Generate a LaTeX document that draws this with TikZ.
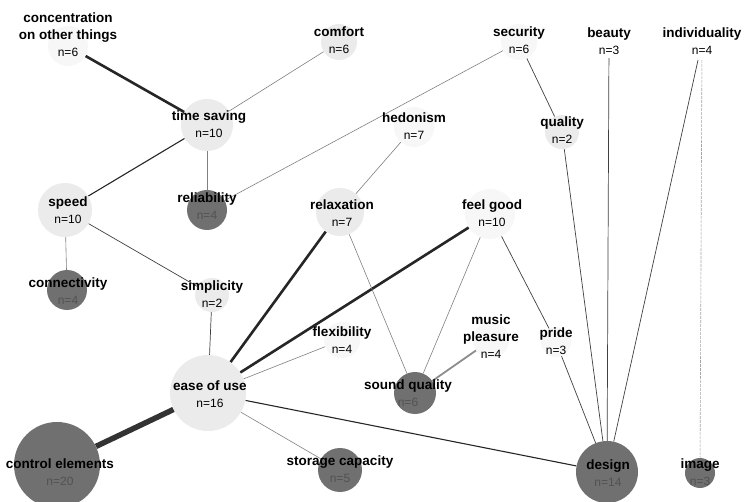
\documentclass[tikz,border=0pt]{standalone}
\usepackage{fontspec}
\setmainfont{Liberation Sans}
\pgfdeclarelayer{bg}
\pgfdeclarelayer{paper}
\pgfsetlayers{paper,bg,main}
\begin{document}
\begin{tikzpicture}[x=1pt,y=-1pt,
  bubble/.style={circle, draw=none, inner sep=0pt, minimum size=#1},
  wb/.style={bubble=#1, fill=white},
  vl/.style={bubble=#1, fill=gray!6},
  lt/.style={bubble=#1, fill=gray!16},
  dk/.style={bubble=#1, fill=black!56},
  lab/.style={align=center, inner sep=0pt, font=\fontsize{13.5}{17}\selectfont\bfseries},
  thinedge/.style={draw=black!50, line width=0.6pt},
  darkedge/.style={draw=black!75, line width=0.7pt},
  midedge/.style={draw=black!85, line width=1.1pt},
  greyedge/.style={draw=black!45, line width=1.8pt},
  thickedge/.style={draw=black!85, line width=2.6pt},
  hugeedge/.style={draw=black!80, line width=5.5pt},
  dotedge/.style={draw=black!35, line width=0.6pt, dash pattern=on 3pt off 1pt}
]
\newcommand{\nn}[1]{{\mdseries\fontsize{12}{17}\selectfont #1}}
\newcommand{\nd}[1]{{\mdseries\fontsize{12}{17}\selectfont\color{black!68}#1}}
\useasboundingbox (0,0) rectangle (744,502);
\begin{pgfonlayer}{paper}
\fill[white] (0,0) rectangle (744,502);
\end{pgfonlayer}

% bubbles
\node[vl=40] (conc) at (68,46) {};
\node[lt=36] (comf) at (339,42) {};
\node[vl=36] (secu) at (519,42) {};
\node[wb=32] (beau) at (609,42) {};
\node[wb=36] (indi) at (702,42) {};
\node[lt=52] (time) at (207,125) {};
\node[vl=40] (hedo) at (414,127) {};
\node[lt=34] (qual) at (562,132) {};
\node[lt=54] (spee) at (65,210) {};
\node[dk=40] (reli) at (207,210) {};
\node[lt=48] (rela) at (340,212) {};
\node[vl=50] (feel) at (490,214) {};
\node[dk=40] (conn) at (67,290) {};
\node[lt=34] (simp) at (212,295) {};
\node[vl=36] (flex) at (342,340) {};
\node[vl=36] (musi) at (491,340) {};
\node[vl=30] (prid) at (556,342) {};
\node[lt=76] (ease) at (208,393) {};
\node[dk=42] (soun) at (415,393) {};
\node[dk=86] (cont) at (57,465) {};
\node[dk=44] (stor) at (340,470) {};
\node[dk=62] (desi) at (607,472) {};
\node[dk=30] (imag) at (700,473) {};

% connectors
\begin{pgfonlayer}{bg}
\draw[thickedge] (conc) -- (time);
\draw[thinedge] (comf) -- (time);
\draw[midedge] (time) -- (spee);
\draw[thinedge] (time) -- (reli);
\draw[thinedge] (secu) -- (reli);
\draw[darkedge] (secu) -- (qual);
\draw[thinedge] (hedo) -- (rela);
\draw[thinedge] (spee) -- (conn);
\draw[darkedge] (spee) -- (simp);
\draw[darkedge] (simp) -- (ease);
\draw[thickedge] (rela) -- (ease);
\draw[thickedge] (feel) -- (ease);
\draw[thinedge] (flex) -- (ease);
\draw[thinedge] (rela) -- (soun);
\draw[thinedge] (feel) -- (soun);
\draw[greyedge] (musi) -- (soun);
\draw[darkedge] (feel) -- (prid);
\draw[darkedge] (prid) -- (desi);
\draw[darkedge] (qual) -- (desi);
\draw[darkedge] (beau) -- (desi);
\draw[darkedge] (indi) -- (desi);
\draw[dotedge] (indi) -- (imag);
\draw[hugeedge] (ease) -- (cont);
\draw[thinedge] (ease) -- (stor);
\draw[midedge] (ease) -- (desi);
\end{pgfonlayer}

% texts
\node[lab] (tconc) at (68,35) {concentration\\on other things\\\nn{n=6}};
\node[lab] (tcomf) at (339,40.5) {comfort\\\nn{n=6}};
\node[lab] (tsecu) at (519,40.5) {security\\\nn{n=6}};
\node[lab] (tbeau) at (609,41.5) {beauty\\\nn{n=3}};
\node[lab] (tindi) at (702,41.5) {individuality\\\nn{n=4}};
\node[lab] (ttime) at (209,124.5) {time saving\\\nn{n=10}};
\node[lab] (thedo) at (414,126.5) {hedonism\\\nn{n=7}};
\node[lab] (tqual) at (562,130.5) {quality\\\nn{n=2}};
\node[lab] (tspee) at (68,210.5) {speed\\\nn{n=10}};
\node[lab] (treli) at (207,206) {reliability\\\nd{n=4}};
\node[lab] (trela) at (342,213) {relaxation\\\nn{n=7}};
\node[lab] (tfeel) at (492,213.5) {feel good\\\nn{n=10}};
\node[lab] (tconn) at (68,291) {connectivity\\\nd{n=4}};
\node[lab] (tsimp) at (212,294.5) {simplicity\\\nn{n=2}};
\node[lab] (tflex) at (342,340) {flexibility\\\nn{n=4}};
\node[lab] (tmusi) at (491,337) {music\\pleasure\\\nn{n=4}};
\node[lab] (tprid) at (556,341.5) {pride\\\nn{n=3}};
\node[lab] (tease) at (210,394) {ease of use\\\nn{n=16}};
\node[lab] (tsoun) at (408,393) {sound quality\\\nd{n=6}};
\node[lab] (tcont) at (60,472) {control elements\\\nd{n=20}};
\node[lab] (tstor) at (340,469.5) {storage capacity\\\nd{n=5}};
\node[lab] (tdesi) at (608,473) {design\\\nd{n=14}};
\node[lab] (timag) at (700,472) {image\\\nd{n=3}};
\end{tikzpicture}
\end{document}
